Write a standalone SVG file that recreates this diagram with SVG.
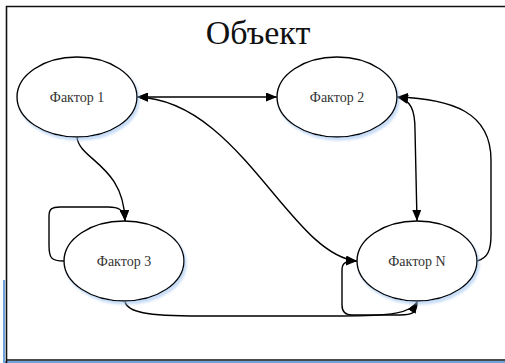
<svg xmlns="http://www.w3.org/2000/svg" width="505" height="363" viewBox="0 0 505 363">
  <style>
    .node ellipse { fill: #ffffff; stroke: #000000; stroke-width: 1.4; filter: url(#shade); }
    .label { font-family: "Liberation Serif", "Times New Roman", serif; font-size: 14px; fill: #333333; text-anchor: middle; }
    .edge { fill: none; stroke: #000000; stroke-width: 1.4; }
    .arr { marker-end: url(#head); }
    .both { marker-start: url(#head); marker-end: url(#head); }
    .title { font-family: "Liberation Serif", "Times New Roman", serif; font-size: 34px; fill: #111111; text-anchor: middle; }
  </style>
  <defs>
    <marker id="head" viewBox="0 0 11 9" refX="11" refY="4.5" markerWidth="11" markerHeight="9" markerUnits="userSpaceOnUse" orient="auto-start-reverse">
      <path d="M0,0 L11,4.5 L0,9 z" fill="#000000"/>
    </marker>
    <filter id="shade" x="-20%" y="-20%" width="140%" height="150%">
      <feDropShadow dx="2" dy="3" stdDeviation="1.2" flood-color="#9cc2ee" flood-opacity="0.55"/>
    </filter>
  </defs>

  <!-- page background and frame -->
  <rect x="0" y="0" width="505" height="363" fill="#ffffff"/>
  <path d="M4,280 L4,362 L505,362" fill="none" stroke="#6fa3dc" stroke-width="2"/>
  <path d="M6.5,363 L6.5,6.5 L505,6.5 M6.5,360 L505,360" fill="none" stroke="#111111" stroke-width="1.6"/>

  <text class="title" x="258" y="44">Объект</text>

  <!-- connectors -->
  <g id="connectors">
    <!-- Фактор 1 ↔ Фактор 2 -->
    <path class="edge both" d="M137,97 L277,97"/>
    <!-- Фактор 1 ↔ Фактор N -->
    <path class="edge both" d="M137,97 C240,100 290,255 357,261"/>
    <!-- Фактор 1 → Фактор 3 -->
    <path class="edge arr" d="M77,137 C79,160 124,165 125,221"/>
    <!-- Фактор 3 self loop -->
    <path class="edge arr" d="M64,261 C51,261 49,258 49,245 L49,216 C49,209 52,207 60,207 L108,207 C118,207 124,209 125,221"/>
    <!-- Фактор 3 → Фактор N -->
    <path class="edge arr" d="M125,302 C128,312 145,316 200,316 L340,316 C392,316 411,313 417,302"/>
    <!-- Фактор N self loop -->
    <path class="edge arr" d="M417,302 C417,313 412,315 400,315 L352,315 C345,315 342,312 342,305 L342,270 C342,263 345,261 357,261"/>
    <!-- Фактор 2 ↔ Фактор N -->
    <path class="edge both" d="M397,97 C411,100 415,110 415,130 L417,221"/>
    <!-- Фактор N → Фактор 2 -->
    <path class="edge arr" d="M477,261 C488,258 491,250 491,235 L491,160 C491,112 452,99 397,97"/>
  </g>

  <!-- nodes -->
  <g id="factor1" class="node">
    <ellipse cx="77" cy="97" rx="60" ry="40"/>
    <text class="label" x="77" y="102" font-family="Liberation Serif, serif">Фактор 1</text>
  </g>
  <g id="factor2" class="node">
    <ellipse cx="337" cy="97" rx="60" ry="40"/>
    <text class="label" x="337" y="102" font-family="Liberation Serif, serif">Фактор 2</text>
  </g>
  <g id="factor3" class="node">
    <ellipse cx="124" cy="261" rx="60" ry="40"/>
    <text class="label" x="124" y="266" font-family="Liberation Serif, serif">Фактор 3</text>
  </g>
  <g id="factorN" class="node">
    <ellipse cx="417" cy="261" rx="60" ry="40"/>
    <text class="label" x="417" y="266" font-family="Liberation Serif, serif">Фактор N</text>
  </g>
</svg>
